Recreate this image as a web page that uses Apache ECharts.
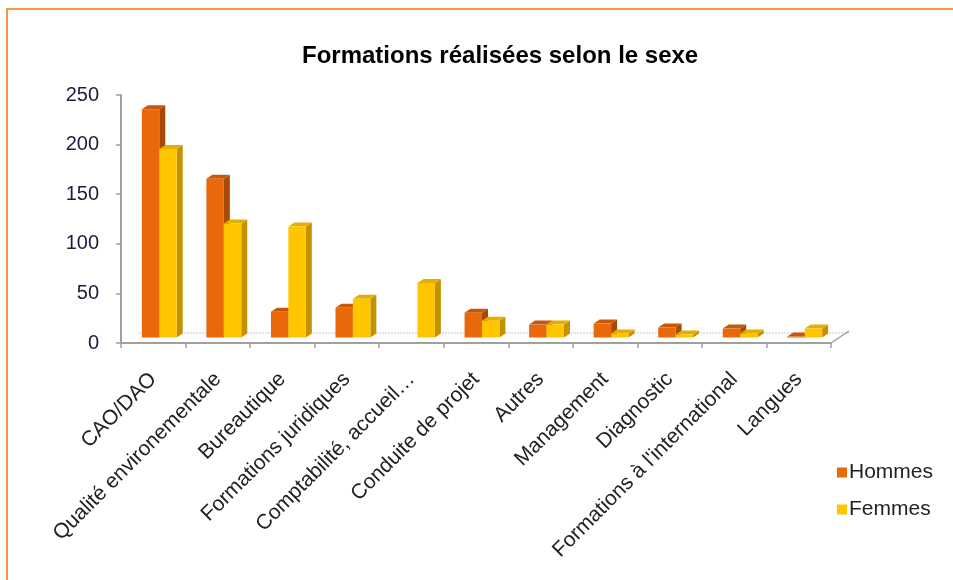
<!DOCTYPE html>
<html>
<head>
<meta charset="utf-8">
<script src="https://cdn.jsdelivr.net/npm/echarts@6/dist/echarts.min.js"></script>
<style>
html,body{margin:0;padding:0;width:953px;height:580px;overflow:hidden;background:#fff;}
#frame{position:absolute;left:6px;top:8px;width:1200px;height:1200px;border:2px solid #F79646;box-sizing:border-box;}
#chart{position:absolute;left:0;top:0;width:953px;height:580px;}
</style>
</head>
<body>
<div id="frame"></div>
<div id="chart"></div>
<script>
var categories = ['CAO/DAO', 'Qualité environementale', 'Bureautique', 'Formations juridiques', 'Comptabilité, accueil…', 'Conduite de projet', 'Autres', 'Management', 'Diagnostic', "Formations à l'international", 'Langues'];
var hommes = [230, 160, 26, 30, 0, 25, 13, 14, 10, 9, 1];
var femmes = [190, 115, 112, 39, 55, 17, 13, 4, 3, 4, 9];
var yTicks = [0, 50, 100, 150, 200, 250];

var FONT = '"Liberation Sans", Arial, sans-serif';
var DX = 6, DY = 4;       // depth of each 3D bar
var FLOOR_DX = 18, FLOOR_DY = 11; // floor depth

function bar3d(which, front, side, top) {
  return function (params, api) {
    var idx = api.value(0);
    var val = api.value(1);
    var band = api.size([1, 0])[0];
    var p0 = api.coord([idx, 0]);
    var p1 = api.coord([idx, val]);
    var w = band * 0.27;
    var cx = p0[0] + FLOOR_DX / 3;
    var baseY = p0[1] - FLOOR_DY / 2;
    var h = p0[1] - p1[1];
    var x0 = which === 0 ? cx - w : cx;
    var x1 = x0 + w;
    var yTop = baseY - h;
    if (val <= 0) return null;
    return {
      type: 'group',
      children: [
        { type: 'polygon', shape: { points: [[x1, baseY], [x1 + DX, baseY - DY], [x1 + DX, yTop - DY], [x1, yTop]] }, style: { fill: side } },
        { type: 'polygon', shape: { points: [[x0, yTop], [x1, yTop], [x1 + DX, yTop - DY], [x0 + DX, yTop - DY]] }, style: { fill: top } },
        { type: 'rect', shape: { x: x0, y: yTop, width: w, height: baseY - yTop }, style: { fill: front } }
      ]
    };
  };
}

function floorItem(params, api) {
  var first = api.coord([0, 0]);
  var last = api.coord([categories.length - 1, 0]);
  var band = api.size([1, 0])[0];
  var xl = first[0] - band / 2;
  var xr = last[0] + band / 2;
  var y = first[1];
  return {
    type: 'group',
    children: [
      { type: 'line', shape: { x1: xl + FLOOR_DX, y1: y - FLOOR_DY + 1, x2: xr + FLOOR_DX, y2: y - FLOOR_DY + 1 }, style: { stroke: '#c8c8c8', lineWidth: 1, lineDash: [2, 1] } },
      { type: 'line', shape: { x1: xr, y1: y, x2: xr + FLOOR_DX, y2: y - FLOOR_DY - 1 }, style: { stroke: '#a0a0a0', lineWidth: 1.5 } }
    ]
  };
}

var chart = echarts.init(document.getElementById('chart'), null, { renderer: 'canvas' });
chart.setOption({
  animation: false,
  backgroundColor: 'transparent',
  title: {
    text: 'Formations réalisées selon le sexe',
    left: 297, top: 39,
    textStyle: { fontFamily: FONT, fontSize: 24, fontWeight: 'bold', color: '#000' }
  },
  legend: {
    data: ['Hommes', 'Femmes'],
    orient: 'vertical',
    left: 832, top: 457,
    itemWidth: 10, itemHeight: 10, itemGap: 16,
    icon: 'rect',
    textStyle: { fontFamily: FONT, fontSize: 21, color: '#222', padding: [0, 0, 0, -3] }
  },
  grid: { left: 121, right: 122, top: 95, bottom: 237, containLabel: false },
  xAxis: {
    type: 'category',
    data: categories,
    axisLine: { lineStyle: { color: '#a0a0a0', width: 2 } },
    axisTick: { show: true, length: 5, lineStyle: { color: '#a0a0a0', width: 1.5 } },
    axisLabel: { rotate: 45, interval: 0, margin: 33, fontFamily: FONT, fontSize: 21, color: '#222' },
    splitLine: { show: false }
  },
  yAxis: {
    type: 'value',
    min: 0, max: 250, interval: 50,
    axisLine: { show: true, lineStyle: { color: '#a0a0a0', width: 2 } },
    axisTick: { show: true, length: 5, lineStyle: { color: '#a0a0a0', width: 1.5 } },
    axisLabel: {
      margin: 22, fontFamily: FONT, fontSize: 20, color: '#1c1c3c',
      formatter: function (v) { return yTicks.indexOf(v) >= 0 ? String(v) : ''; }
    },
    splitLine: { show: false }
  },
  series: [
    {
      type: 'custom', name: 'floor', silent: true, z: 1,
      data: [[0, 0]],
      renderItem: floorItem
    },
    {
      type: 'custom', name: 'Hommes', z: 2,
      itemStyle: { color: '#E8680A' },
      encode: { x: 0, y: 1 },
      data: hommes.map(function (v, i) { return [i, v]; }),
      renderItem: bar3d(0, '#E8680A', '#A64A06', '#C75808')
    },
    {
      type: 'custom', name: 'Femmes', z: 3,
      itemStyle: { color: '#FFC600' },
      encode: { x: 0, y: 1 },
      data: femmes.map(function (v, i) { return [i, v]; }),
      renderItem: bar3d(1, '#FFC600', '#C29200', '#E5AE00')
    }
  ]
});
</script>
</body>
</html>
